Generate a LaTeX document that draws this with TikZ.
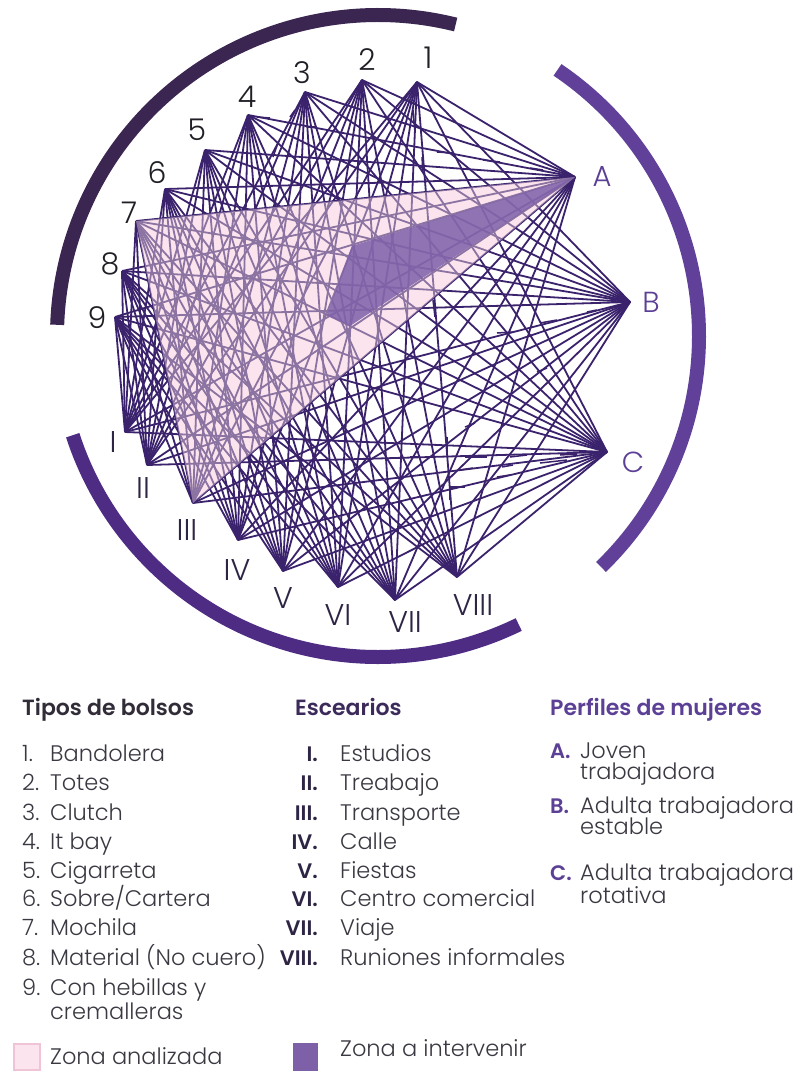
\documentclass[tikz,border=0pt]{standalone}
\usepackage{fontspec}
\setmainfont{Poppins}[UprightFont={* Light},BoldFont={* SemiBold}]
\definecolor{webc}{RGB}{58,34,108}
\definecolor{pinkz}{RGB}{252,228,238}
\definecolor{pinkedge}{RGB}{238,196,214}
\definecolor{zonec}{RGB}{125,96,168}
\definecolor{arcdark}{RGB}{58,38,80}
\definecolor{arcright}{RGB}{96,64,152}
\definecolor{arcbottom}{RGB}{78,44,132}
\definecolor{numc}{RGB}{34,30,38}
\definecolor{romc}{RGB}{46,36,68}
\definecolor{letc}{RGB}{92,64,150}
\definecolor{headA}{RGB}{50,44,56}
\definecolor{headB}{RGB}{60,42,90}
\definecolor{headC}{RGB}{92,64,150}
\definecolor{textc}{RGB}{60,56,66}
\begin{document}
\begin{tikzpicture}[x=1pt,y=1pt,
  web/.style={draw=webc, line width=1.8pt},
  tick/.style={draw=webc, line width=1.5pt},
  numlab/.style={font=\fontsize{30}{30}\selectfont, text=numc, inner sep=0pt},
  romlab/.style={font=\fontsize{30}{30}\selectfont, text=romc, inner sep=0pt},
  letlab/.style={font=\fontsize{29}{29}\selectfont, text=letc, inner sep=0pt},
  ring/.style={line width=14pt},
  head/.style={font=\fontsize{22}{22}\selectfont\bfseries, anchor=base west, inner sep=0pt},
  item/.style={font=\fontsize{22.5}{22.5}\selectfont, text=textc, anchor=base west, inner sep=0pt},
  inum/.style={font=\fontsize{22.5}{22.5}\selectfont, text=textc, anchor=base west, inner sep=0pt},
  rnum/.style={font=\fontsize{21}{21}\selectfont\bfseries, text=romc, anchor=base east, inner sep=0pt},
  lnum/.style={font=\fontsize{21}{21}\selectfont\bfseries, text=letc, anchor=base west, inner sep=0pt}
]
\useasboundingbox (0,0) rectangle (800,-1071);
\fill[white] (0,0) rectangle (800,-1071);

% points
\coordinate (p1) at (417,-82);
\coordinate (p2) at (362,-80);
\coordinate (p3) at (305,-92);
\coordinate (p4) at (248,-115);
\coordinate (p5) at (205,-150);
\coordinate (p6) at (165,-189);
\coordinate (p7) at (136,-221);
\coordinate (p8) at (122,-271);
\coordinate (p9) at (115,-317);
\coordinate (r1) at (125,-432);
\coordinate (r2) at (147,-465);
\coordinate (r3) at (193,-503);
\coordinate (r4) at (238,-540);
\coordinate (r5) at (283,-571);
\coordinate (r6) at (338,-587);
\coordinate (r7) at (395,-600);
\coordinate (r8) at (457,-577);
\coordinate (A) at (575,-177);
\coordinate (B) at (630,-302);
\coordinate (C) at (607,-452);
\coordinate (O) at (378,-336);
\coordinate (z1) at (327,-315);
\coordinate (z2) at (352,-246);
\coordinate (z3) at (350,-326);

% analysed zone base
\fill[pinkz] (p7) -- (A) -- (r3) -- cycle;

% web of connections
\foreach \s in {p1,p2,p3,p4,p5,p6,p7,p8,p9}{
  \foreach \t in {r1,r2,r3,r4,r5,r6,r7,r8,A,B,C}{
    \draw[web] (\s) -- (\t);
  }
}
\foreach \s in {r1,r2,r3,r4,r5,r6,r7,r8}{
  \foreach \t in {A,B,C}{
    \draw[web] (\s) -- (\t);
  }
}

% small tick marks scattered in the web
\foreach \x/\y/\u/\v in {
  587/312/597/310, 540/323/557/320, 497/333/513/332, 537/372/547/368,
  465/427/475/423, 465/457/487/457, 510/457/527/455, 540/463/567/460,
  560/455/577/454, 502/467/513/465, 497/477/510/475, 460/470/473/468,
  450/487/465/487, 447/437/447/453, 450/487/450/500, 410/457/420/457,
  437/152/453/153, 483/160/500/162, 530/168/543/170, 413/110/415/133,
  422/157/423/173, 433/300/435/317, 257/117/270/118, 273/157/278/143,
  290/117/295/110, 307/127/317/127}{
  \draw[tick] (\x,-\y) -- (\u,-\v);
}

% overlays
\fill[pinkz, opacity=0.42] (p7) -- (A) -- (r3) -- cycle;
\fill[zonec, opacity=0.85] (z1) -- (z2) -- (A) -- (z3) -- cycle;

% rings
\draw[ring, arcdark] (O) ++(76:321) arc[start angle=76, end angle=178, radius=321];
\draw[ring, arcright] (O) ++(56:321) arc[start angle=56, end angle=-46, radius=321];
\draw[ring, arcbottom] (O) ++(198:321) arc[start angle=198, end angle=296, radius=321];

% labels
\node[numlab] (l1) at (428,-58) {1};
\node[numlab] (l2) at (367,-60) {2};
\node[numlab] (l3) at (302,-73) {3};
\node[numlab] (l4) at (247,-97) {4};
\node[numlab] (l5) at (197,-130) {5};
\node[numlab] (l6) at (157,-173) {6};
\node[numlab] (l7) at (129,-213) {7};
\node[numlab] (l8) at (110,-264) {8};
\node[numlab] (l9) at (97,-318) {9};
\node[romlab] (lr1) at (113,-442) {I};
\node[romlab] (lr2) at (143,-488) {II};
\node[romlab] (lr3) at (187,-530) {III};
\node[romlab] (lr4) at (237,-570) {IV};
\node[romlab] (lr5) at (283,-598) {V};
\node[romlab] (lr6) at (338,-615) {VI};
\node[romlab] (lr7) at (405,-622) {VII};
\node[romlab] (lr8) at (473,-605) {VIII};
\node[letlab] (lA) at (602,-176) {A};
\node[letlab] (lB) at (651,-302) {B};
\node[letlab] (lC) at (633,-462) {C};

% legend headings
\node[head, text=headA] (h1) at (22,-715) {Tipos de bolsos};
\node[head, text=headB] (h2) at (295,-715) {Escearios};
\node[head, text=headC] (h3) at (550,-715) {Perfiles de mujeres};

% bag types
\node[inum] (n1) at (22,-761) {1.};
\node[item] (t1) at (50,-761) {Bandolera};
\node[inum] (n2) at (22,-790) {2.};
\node[item] (t2) at (50,-790) {Totes};
\node[inum] (n3) at (22,-820) {3.};
\node[item] (t3) at (50,-820) {Clutch};
\node[inum] (n4) at (22,-849) {4.};
\node[item] (t4) at (50,-849) {It bay};
\node[inum] (n5) at (22,-878) {5.};
\node[item] (t5) at (50,-878) {Cigarreta};
\node[inum] (n6) at (22,-906) {6.};
\node[item] (t6) at (50,-906) {Sobre/Cartera};
\node[inum] (n7) at (22,-935) {7.};
\node[item] (t7) at (50,-935) {Mochila};
\node[inum] (n8) at (22,-965) {8.};
\node[item] (t8) at (50,-965) {Material (No cuero)};
\node[inum] (n9) at (22,-995) {9.};
\node[item] (t9) at (50,-995) {Con hebillas y};
\node[item] (t9b) at (50,-1019) {cremalleras};

% scenarios
\node[rnum] (m1) at (318,-761) {I.};
\node[item] (s1) at (340,-761) {Estudios};
\node[rnum] (m2) at (318,-790) {II.};
\node[item] (s2) at (340,-790) {Treabajo};
\node[rnum] (m3) at (318,-820) {III.};
\node[item] (s3) at (340,-820) {Transporte};
\node[rnum] (m4) at (318,-849) {IV.};
\node[item] (s4) at (340,-849) {Calle};
\node[rnum] (m5) at (318,-878) {V.};
\node[item] (s5) at (340,-878) {Fiestas};
\node[rnum] (m6) at (318,-906) {VI.};
\node[item] (s6) at (340,-906) {Centro comercial};
\node[rnum] (m7) at (318,-935) {VII.};
\node[item] (s7) at (340,-935) {Viaje};
\node[rnum] (m8) at (318,-965) {VIII.};
\node[item] (s8) at (340,-965) {Runiones informales};

% profiles
\node[lnum] (a1) at (550,-758) {A.};
\node[item] (pa1) at (580,-758) {Joven};
\node[item] (pa2) at (580,-779) {trabajadora};
\node[lnum] (a2) at (550,-813) {B.};
\node[item] (pb1) at (580,-813) {Adulta trabajadora};
\node[item] (pb2) at (580,-834) {estable};
\node[lnum] (a3) at (550,-880) {C.};
\node[item] (pc1) at (580,-880) {Adulta trabajadora};
\node[item] (pc2) at (580,-903) {rotativa};

% zone legend
\filldraw[fill=pinkz, draw=pinkedge, line width=1.5pt] (14,-1044) rectangle (40,-1070);
\node[item] (k1) at (50,-1064) {Zona analizada};
\fill[zonec] (293,-1043) rectangle (318,-1071);
\node[item] (k2) at (340,-1056) {Zona a intervenir};
\end{tikzpicture}
\end{document}
